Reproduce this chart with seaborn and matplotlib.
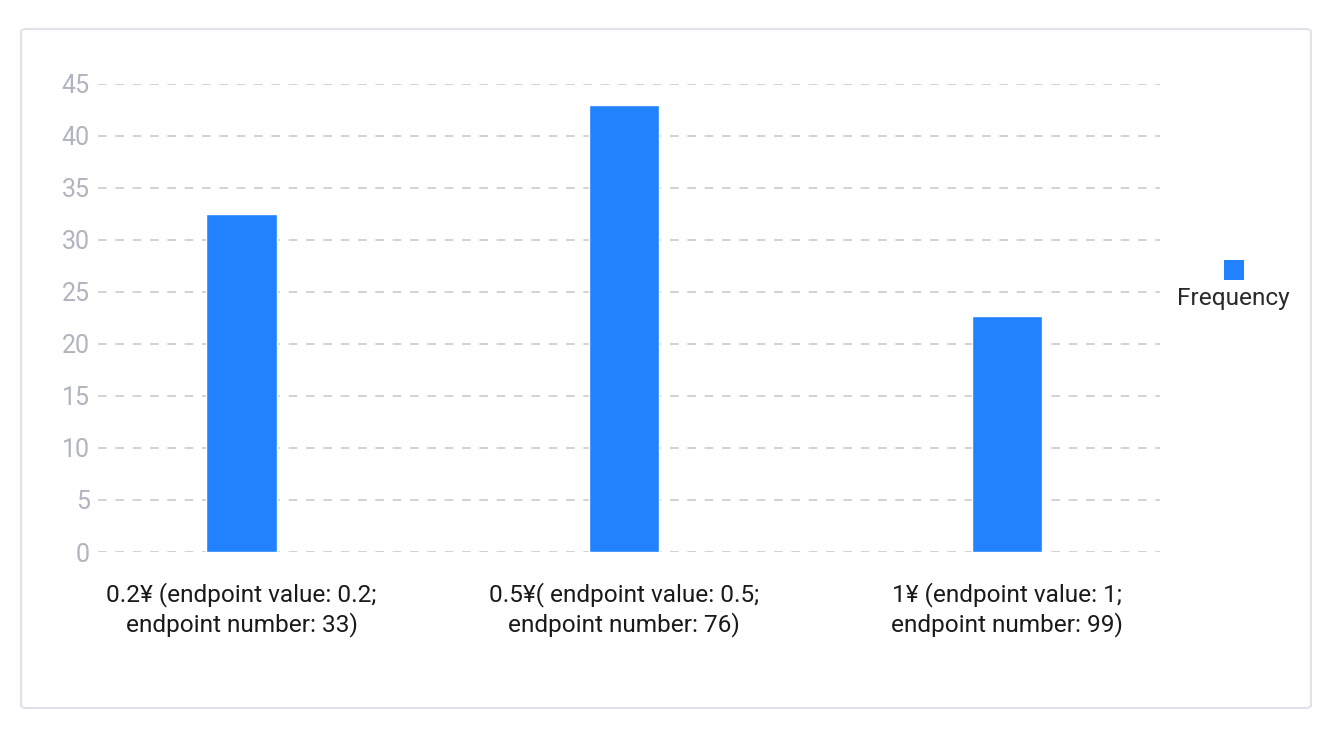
import matplotlib
matplotlib.use("Agg")
import matplotlib.pyplot as plt
from matplotlib.patches import FancyBboxPatch, Rectangle
import seaborn as sns
import pandas as pd

# data
categories = [
    "0.2¥ (endpoint value: 0.2;\nendpoint number: 33)",
    "0.5¥( endpoint value: 0.5;\nendpoint number: 76)",
    "1¥ (endpoint value: 1;\nendpoint number: 99)",
]
frequency = [32.5, 42.9, 22.7]
y_ticks = [0, 5, 10, 15, 20, 25, 30, 35, 40, 45]
series_name = "Frequency"

df = pd.DataFrame({"category": categories, "value": frequency})

sns.set_theme(style="white")
plt.rcParams["font.family"] = ["Roboto", "DejaVu Sans"]

fig = plt.figure(figsize=(13.4, 7.3), dpi=100)

# card background with border (behind the axes)
card = FancyBboxPatch((21 / 1340, 1 - 708 / 730), 1290 / 1340, 679 / 730,
                      boxstyle="round,pad=0,rounding_size=0.004",
                      transform=fig.transFigure, facecolor="white",
                      edgecolor="#dfe2ea", linewidth=1.5, zorder=-5)
fig.patches.append(card)

ax = fig.add_axes([98 / 1340, 1 - 552 / 730, (1160 - 98) / 1340, (552 - 83.5) / 730])
ax.set_facecolor("none")
ax.set_zorder(2)

sns.barplot(data=df, x="category", y="value", color="#2181ff", width=0.184,
            saturation=1, ax=ax, zorder=3)

ax.set_ylim(0, 45)
ax.set_xlim(-0.375, 2.4)
ax.set_yticks(y_ticks)
ax.set_axisbelow(True)
ax.yaxis.grid(True, color="#cbcbcb", linestyle=(0, (5.2, 5.2)), linewidth=1.2)
ax.xaxis.grid(False)
for s in ax.spines.values():
    s.set_visible(False)
ax.set_xlabel("")
ax.set_ylabel("")
ax.tick_params(axis="y", length=0, pad=6, labelsize=18, labelcolor="#b1b4c0")
ax.tick_params(axis="x", length=0, pad=22, labelsize=17.6, labelcolor="#1a1a1a")
for lbl in ax.get_xticklabels():
    lbl.set_linespacing(1.25)

# legend: square above the series name
fig.patches.append(Rectangle((1224 / 1340, 1 - 280 / 730), 20 / 1340, 20 / 730,
                             transform=fig.transFigure, facecolor="#2181ff",
                             edgecolor="none", zorder=5))
fig.text(1233 / 1340, 1 - 299 / 730, series_name, ha="center", va="center",
         fontsize=17.6, color="#2a2a2a")

fig.savefig("out.png", dpi=100)
